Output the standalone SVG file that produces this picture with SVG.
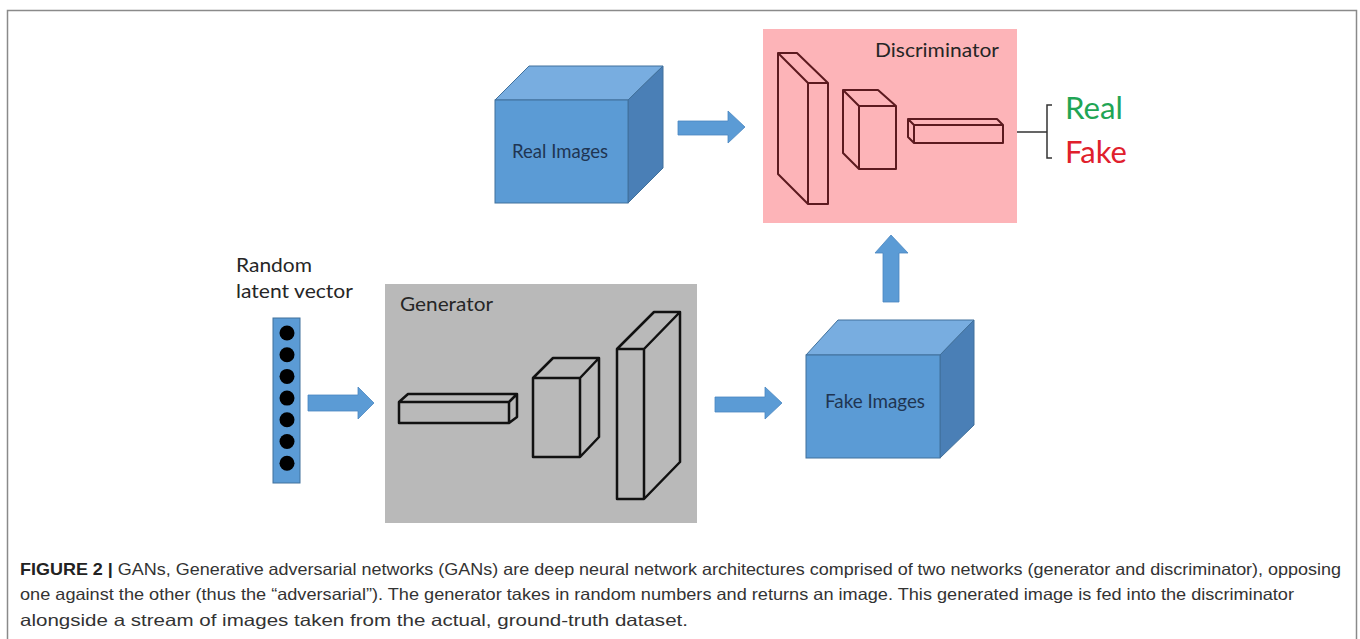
<svg xmlns="http://www.w3.org/2000/svg" width="1360" height="639" viewBox="0 0 1360 639">
<defs>
<style>
.lbl{font-family:Lato,"Liberation Sans",sans-serif;fill:#262626}
.cubelbl{font-family:Lato,"Liberation Sans",sans-serif;fill:#1f3552;font-size:19px}
.front{fill:#5b9bd5;stroke:#41719c;stroke-width:1}
.top{fill:#78ade0;stroke:#41719c;stroke-width:1}
.side{fill:#4a7fb6;stroke:#41719c;stroke-width:1}
.arrow{fill:#5b9bd5;stroke:#4a86c0;stroke-width:0.8}
.gbox{fill:none;stroke:#111;stroke-width:2.5;stroke-linejoin:round}
.dbox{fill:none;stroke:#5c1a1f;stroke-width:2;stroke-linejoin:round}
.cap{font-family:"Liberation Sans",Arial,sans-serif;font-size:16.5px;fill:#333}
</style>
</defs>
<rect x="0" y="0" width="1360" height="639" fill="#fff"/>
<path d="M7.5,645 V10.5 H1356.5 V645" fill="none" stroke="#8a8a8a" stroke-width="1.5"/>

<g id="discriminator">
<rect x="763" y="29" width="254" height="194" fill="#fdb4b8"/>
<text class="lbl" x="875" y="57" font-size="20" textLength="124" lengthAdjust="spacingAndGlyphs">Discriminator</text>
<path class="dbox" d="M778,53 L797,53 L828,83 V204 H808 L778,174 Z M778,53 L808,83 H828 M808,83 V204"/>
<path class="dbox" d="M843,90 L878,90 L896,106 V169 H859 L843,153 Z M843,90 L859,106 H896 M859,106 V169"/>
<path class="dbox" d="M908,119 L997,119 L1003,125 V143 H914 L908,137 Z M908,119 L914,125 H1003 M914,125 V143"/>
</g>

<g id="output">
<path d="M1017,132 H1047 M1052,105 H1047 V158 H1052" fill="none" stroke="#333" stroke-width="1.5"/>
<text x="1065" y="119" font-family="Lato,'Liberation Sans',sans-serif" font-size="30" fill="#1fa555" textLength="58" lengthAdjust="spacingAndGlyphs">Real</text>
<text x="1065" y="163" font-family="Lato,'Liberation Sans',sans-serif" font-size="30" fill="#e0202c" textLength="62" lengthAdjust="spacingAndGlyphs">Fake</text>
</g>

<g id="real-images">
<polygon class="top" points="495,100 529,66 663,66 628,100"/>
<polygon class="side" points="628,100 663,66 663,168 628,203"/>
<rect class="front" x="495" y="100" width="133" height="103"/>
<text class="cubelbl" x="512" y="158" textLength="96" lengthAdjust="spacingAndGlyphs">Real Images</text>
</g>

<g id="latent-vector">
<text class="lbl" x="236" y="272" font-size="20" textLength="76" lengthAdjust="spacingAndGlyphs">Random</text>
<text class="lbl" x="236" y="298" font-size="20" textLength="117" lengthAdjust="spacingAndGlyphs">latent vector</text>
<rect x="273" y="318" width="27" height="165" fill="#5b9bd5" stroke="#41719c" stroke-width="1"/>
<g fill="#000">
<circle cx="287" cy="333" r="7.5"/>
<circle cx="287" cy="354.7" r="7.5"/>
<circle cx="287" cy="376.4" r="7.5"/>
<circle cx="287" cy="398.1" r="7.5"/>
<circle cx="287" cy="419.8" r="7.5"/>
<circle cx="287" cy="441.5" r="7.5"/>
<circle cx="287" cy="463.2" r="7.5"/>
</g>
</g>

<g id="generator">
<rect x="385" y="284" width="312" height="239" fill="#b9b9b9"/>
<text class="lbl" x="400" y="311" font-size="20" textLength="93" lengthAdjust="spacingAndGlyphs">Generator</text>
<path class="gbox" d="M399,402 L408,394 L517,394 L517,417 L509,423 H399 Z M399,402 H509 V423 M509,402 L517,394"/>
<path class="gbox" d="M533,378 L553,358 L599,358 L599,437 L580,457 H533 Z M533,378 H580 V457 M580,378 L599,358"/>
<path class="gbox" d="M617,349 L654,312 L680,312 L680,462 L644,499 H617 Z M617,349 H644 V499 M644,349 L680,312"/>
</g>

<g id="fake-images">
<polygon class="top" points="806,355 838,320 974,320 940,355"/>
<polygon class="side" points="940,355 974,320 974,425 940,458"/>
<rect class="front" x="806" y="355" width="134" height="103"/>
<text class="cubelbl" x="825" y="408" textLength="100" lengthAdjust="spacingAndGlyphs">Fake Images</text>
</g>

<g id="connectors">
<polygon class="arrow" points="678,121 728,121 728,111 745,127 728,143 728,135 678,135"/>
<polygon class="arrow" points="308,395 358,395 358,387 374,403 358,419 358,411 308,411"/>
<polygon class="arrow" points="715,397 765,397 765,387 782,403 765,419 765,412 715,412"/>
<polygon class="arrow" points="883,302 883,253 875,253 891,235 908,253 899,253 899,302"/>
</g>

<g id="caption">
<text class="cap" x="20" y="575" textLength="1321" lengthAdjust="spacingAndGlyphs"><tspan font-weight="bold" fill="#222">FIGURE 2 |</tspan> GANs, Generative adversarial networks (GANs) are deep neural network architectures comprised of two networks (generator and discriminator), opposing</text>
<text class="cap" x="20" y="600" textLength="1274" lengthAdjust="spacingAndGlyphs">one against the other (thus the “adversarial”). The generator takes in random numbers and returns an image. This generated image is fed into the discriminator</text>
<text class="cap" x="20" y="626" textLength="668" lengthAdjust="spacingAndGlyphs">alongside a stream of images taken from the actual, ground-truth dataset.</text>
</g>
</svg>
